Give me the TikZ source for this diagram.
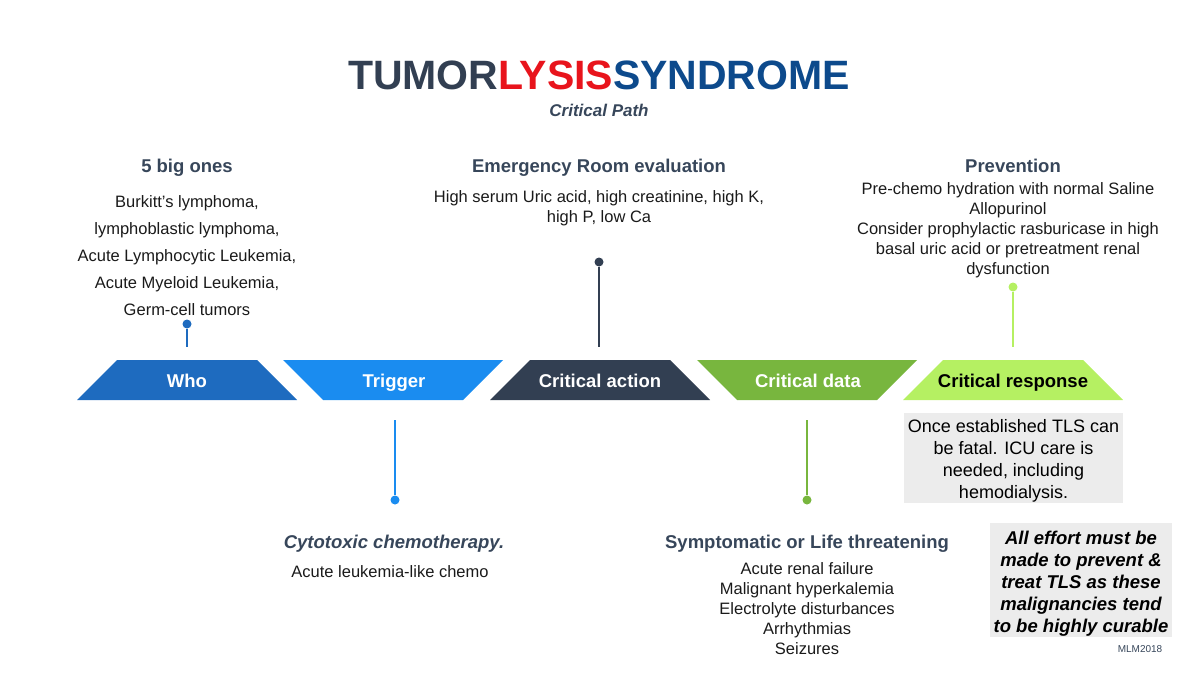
\documentclass[tikz,border=0pt]{standalone}
\usepackage{fontspec}
\setmainfont{Liberation Sans}

\definecolor{whoblue}{HTML}{1E6BBF}
\definecolor{trigblue}{HTML}{1A8CF0}
\definecolor{actslate}{HTML}{323F52}
\definecolor{datagreen}{HTML}{78B63E}
\definecolor{respgreen}{HTML}{B5F062}
\definecolor{headc}{HTML}{37465A}
\definecolor{bodyc}{HTML}{1A1A1A}
\definecolor{boxgray}{HTML}{ECECEC}
\definecolor{lysisred}{HTML}{E8141C}
\definecolor{synblue}{HTML}{0D4A8C}

\tikzset{
  phase/.style={text=white, text height=16pt, text depth=2pt,
    font=\bfseries\fontsize{18.5}{22}\selectfont},
  heading/.style={text=headc, text height=16pt, text depth=2pt,
    font=\bfseries\fontsize{18.5}{22}\selectfont},
  body/.style={text=bodyc, align=center, font=\fontsize{16.5}{20}\selectfont},
  stemdot/.style={circle, fill=#1, inner sep=0pt, minimum size=9pt},
  stem/.style={draw=#1, line width=1.6pt},
  note/.style={fill=boxgray, align=center, text=black, inner sep=0pt}
}

\begin{document}
\begin{tikzpicture}[x=1pt, y=-1pt]
    \useasboundingbox (0,0) rectangle (1198,674);

    % title
    \node[font=\bfseries\fontsize{41}{48}\selectfont] (title) at (599,75)
        {\textcolor{actslate}{TUMOR}\textcolor{lysisred}{LYSIS}\textcolor{synblue}{SYNDROME}};
    \node[font=\bfseries\itshape\fontsize{17}{20}\selectfont, text=headc] (sub) at (599,110) {Critical Path};

    % path shapes
    \fill[whoblue, shift={(187,380)}] (-110,20) -- (-70,-20) -- (70,-20) -- (110,20) -- cycle;
    \fill[trigblue, shift={(393,380)}] (-110,-20) -- (110,-20) -- (70,20) -- (-70,20) -- cycle;
    \fill[actslate, shift={(600,380)}] (-110,20) -- (-70,-20) -- (70,-20) -- (110,20) -- cycle;
    \fill[datagreen, shift={(807,380)}] (-110,-20) -- (110,-20) -- (70,20) -- (-70,20) -- cycle;
    \fill[respgreen, shift={(1013,380)}] (-110,20) -- (-70,-20) -- (70,-20) -- (110,20) -- cycle;

    \node[phase] (who) at (187,380) {Who};
    \node[phase] (trig) at (394,380) {Trigger};
    \node[phase] (act) at (600,380) {Critical action};
    \node[phase] (data) at (808,380) {Critical data};
    \node[phase, text=black] (resp) at (1013,380) {Critical response};

    % above
    \node[heading] (bigfive) at (187,165) {5 big ones};
    \node[body, font=\fontsize{16.5}{27}\selectfont] (bigfivelist) at (187,256)
        {Burkitt’s lymphoma,\\ lymphoblastic lymphoma,\\ Acute Lymphocytic Leukemia,\\ Acute Myeloid Leukemia,\\ Germ-cell tumors};
    \node[heading] (er) at (599,165) {Emergency Room evaluation};
    \node[body] (erlist) at (599,208) {High serum Uric acid, high creatinine, high K,\\ high P, low Ca};
    \node[heading] (prev) at (1013,165) {Prevention};
    \node[body] (prevlist) at (1008,230)
        {Pre-chemo hydration with normal Saline\\ Allopurinol\\ Consider prophylactic rasburicase in high\\ basal uric acid or pretreatment renal\\ dysfunction};

    % below
    \node[heading, font=\bfseries\itshape\fontsize{18.5}{22}\selectfont] (cyto) at (394,541) {Cytotoxic chemotherapy.};
    \node[body] (cytolist) at (390,572) {Acute leukemia-like chemo};
    \node[heading] (sympt) at (807,541) {Symptomatic or Life threatening};
    \node[body] (symptlist) at (807,609)
        {Acute renal failure\\ Malignant hyperkalemia\\ Electrolyte disturbances\\ Arrhythmias\\ Seizures};

    \node[note, minimum width=219pt, minimum height=90pt, font=\fontsize{18}{22}\selectfont] (fatal) at (1013.5,458)
        {\rule{0pt}{19pt}Once established TLS can\\ be fatal. ICU care is\\ needed, including\\ hemodialysis.};
    \node[note, minimum width=182pt, minimum height=114pt, font=\bfseries\itshape\fontsize{18.5}{22}\selectfont] (effort) at (1081,580)
        {\rule{0pt}{20pt}All effort must be\\ made to prevent \&\\ treat TLS as these\\ malignancies tend\\ to be highly curable};
    \node[font=\fontsize{10}{12}\selectfont, text=headc] (sig) at (1140,649) {MLM2018};

    % stems
    \node[stemdot=whoblue] (whodot) at (187,324) {};
    \coordinate (whoend) at (187,347);
    \node[stemdot=actslate] (actdot) at (599,262) {};
    \coordinate (actend) at (599,347);
    \node[stemdot=respgreen] (respdot) at (1013,287) {};
    \coordinate (respend) at (1013,347);
    \coordinate (trigstart) at (395,420);
    \node[stemdot=trigblue] (trigdot) at (395,500) {};
    \coordinate (datastart) at (807,420);
    \node[stemdot=datagreen] (datadot) at (807,500) {};

    \draw[stem=whoblue] (whodot) -- (whoend);
    \draw[stem=actslate] (actdot) -- (actend);
    \draw[stem=respgreen] (respdot) -- (respend);
    \draw[stem=trigblue] (trigstart) -- (trigdot);
    \draw[stem=datagreen] (datastart) -- (datadot);
\end{tikzpicture}
\end{document}
